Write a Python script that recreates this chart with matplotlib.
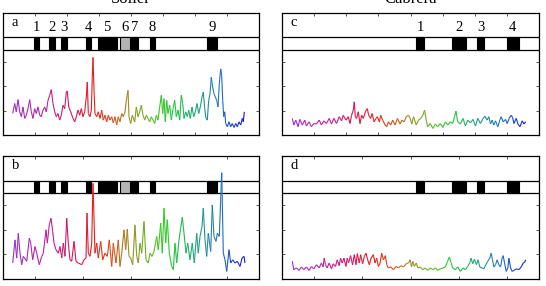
import numpy as np
import matplotlib
matplotlib.use('Agg')
import matplotlib.pyplot as plt
from matplotlib.collections import LineCollection
from matplotlib.colors import LinearSegmentedColormap
from matplotlib.patches import Rectangle

plt.rcParams['font.family'] = ['Liberation Serif', 'DejaVu Serif']

titles = ['Soller', 'Cabrera']
panel_labels = ['a', 'b', 'c', 'd']

# ---------- Soller, panel a ----------
a_x = [9.7, 11.7, 13.3, 15.0, 16.7, 18.3, 20.0, 21.7, 23.3, 25.0, 26.7, 28.3, 30.0, 31.7, 33.3, 35.0,
       36.7, 38.3, 40.0, 41.7, 43.3, 45.0, 46.7, 48.3, 50.0, 51.7, 53.3, 55.0, 56.7, 58.3, 60.0, 61.7,
       63.3, 64.3, 65.7, 67.7, 70.0, 71.7, 73.3, 75.0, 76.7, 78.3, 80.0, 81.7, 83.3, 84.3, 85.3, 87.0,
       88.3, 89.3, 90.0, 91.0, 92.0, 93.7, 95.3, 97.0, 98.7, 100.3, 102.0, 103.7, 105.3, 107.0, 108.7,
       110.3, 112.0, 113.7, 115.3, 117.0, 118.7, 120.3, 122.0, 123.3, 125.0, 126.0, 127.7, 129.3,
       131.7, 133.3, 135.0, 136.7, 138.3, 140.0, 141.7, 143.3, 145.0, 146.7, 148.3, 150.0, 151.7,
       153.3, 155.0, 156.7, 158.3, 159.7, 161.0, 162.3, 163.7, 165.0, 166.7, 168.3, 170.0, 171.7,
       173.3, 175.0, 176.7, 178.3, 179.7, 181.0, 182.7, 184.3, 185.7, 187.3, 189.0, 190.7, 192.3,
       194.0, 195.7, 197.3, 199.0, 200.3, 201.7, 203.0, 204.3, 205.7, 207.0, 208.3, 209.7, 211.0,
       212.3, 213.7, 215.0, 216.3, 217.7, 218.7, 219.7, 220.7, 221.7, 222.7, 224.3, 226.0, 227.7,
       229.3, 231.0, 232.7, 234.3, 236.0, 237.7, 239.3, 240.3, 241.3]
a_y = [0.88, 1.29, 0.95, 1.45, 0.95, 0.75, 1.15, 0.68, 0.81, 1.08, 1.45, 0.95, 0.68, 1.08, 0.88, 1.15,
       0.81, 0.75, 1.02, 1.15, 0.95, 1.42, 1.63, 1.86, 1.29, 0.95, 0.75, 0.88, 0.61, 0.81, 1.22, 1.08,
       1.76, 1.80, 1.15, 0.95, 0.68, 0.54, 0.75, 1.02, 0.81, 1.08, 0.75, 0.95, 1.56, 2.17, 0.88, 0.75,
       1.02, 2.37, 3.18, 1.83, 0.88, 0.75, 0.95, 0.68, 1.02, 0.61, 0.81, 0.54, 0.81, 0.61, 0.75,
       0.50, 0.75, 0.41, 0.75, 0.54, 0.88, 0.75, 0.95, 1.42, 1.83, 0.75, 0.47, 0.81,
       0.54, 1.15, 0.75, 0.95, 1.22, 0.81, 0.61, 0.81, 0.68, 0.54, 0.75, 0.61, 0.47,
       0.81, 0.61, 1.15, 1.63, 0.88, 1.49, 0.54, 1.42, 0.88, 1.22, 0.61, 1.08, 1.42,
       0.75, 1.02, 0.61, 1.63, 1.29, 0.68, 0.95, 0.75, 1.02, 0.68, 1.15, 0.75, 0.95,
       1.29, 0.88, 1.15, 1.56, 1.76, 1.08, 0.68, 0.61, 1.42, 1.69, 2.37, 1.96, 1.69,
       1.56, 1.42, 1.15, 2.10, 2.71, 2.44, 1.42, 0.75, 0.95, 0.47, 0.34, 0.54, 0.34,
       0.47, 0.31, 0.47, 0.34, 0.54, 0.41, 0.68, 0.54, 0.95]

# ---------- Soller, panel b ----------
b_x = [9.7, 12.0, 13.7, 15.3, 17.0, 18.7, 20.3, 23.7, 26.3, 27.7, 29.7, 32.0, 33.7, 36.3, 38.7, 40.3,
       43.0, 44.3, 46.3, 48.0, 49.7, 51.0, 53.0, 55.3, 57.0, 58.7, 60.3, 62.0, 63.7, 65.3, 67.0, 68.7,
       71.0, 73.0, 75.3, 78.7, 81.0, 83.0, 84.0, 85.3, 87.0, 88.7, 90.0, 92.0, 93.7, 95.3, 97.7, 99.7,
       102.0, 104.3, 106.3, 108.7, 110.3, 113.0, 115.3, 117.0, 118.7, 121.0, 122.7, 124.3, 126.0,
       127.7, 129.7, 132.0, 133.7, 135.3, 137.0, 138.7, 141.0, 143.0, 145.3, 147.0, 149.0, 151.0,
       153.7, 155.3, 157.7, 159.3, 161.0, 162.7, 164.3, 166.3, 168.7, 170.3, 172.0, 173.7, 176.0,
       177.7, 179.3, 181.0, 183.0, 184.7, 187.0, 189.3, 191.3, 193.7, 195.3, 197.0, 199.0, 200.3,
       202.0, 203.7, 205.3, 207.7, 209.3, 211.0, 213.0, 214.3, 216.3, 218.7, 220.3, 222.0, 223.7,
       226.0, 227.7, 229.7, 232.0, 234.3, 237.0, 239.0, 241.0, 242.0]
b_y = [0.65, 1.59, 0.85, 1.86, 1.05, 0.58, 0.92, 0.72, 1.66, 1.46, 0.78, 1.32, 1.05, 0.58, 0.92, 1.05,
       2.00, 1.46, 2.20, 2.47, 1.93, 1.46, 1.19, 1.05, 1.32, 0.85, 1.46, 0.92, 2.47, 1.46, 0.78, 0.72,
       1.53, 0.72, 0.65, 0.58, 0.78, 0.85, 2.68, 1.05, 0.92, 1.46, 3.89, 1.05, 1.46, 0.85, 1.53, 0.78,
       1.05, 0.92, 1.59, 0.51, 1.46, 0.65, 1.59, 0.51, 1.05, 2.00, 1.19, 2.03, 0.92,
       0.85, 0.58, 2.20, 0.92, 0.65, 1.46, 1.05, 2.34, 0.78, 0.65, 1.05, 0.92, 1.12,
       1.73, 1.19, 2.27, 1.05, 2.88, 1.46, 2.41, 1.05, 0.51, 0.38, 1.46, 0.65, 1.59,
       2.07, 2.51, 1.86, 1.05, 1.46, 0.78, 1.46, 0.65, 1.86, 1.05, 1.73, 2.14, 2.88,
       1.59, 0.92, 1.86, 1.12, 3.01, 1.73, 1.53, 1.86, 1.73, 4.32, 1.05, 0.78, 0.31,
       1.19, 0.65, 0.78, 0.65, 0.72, 0.51, 0.85, 0.92, 0.65]

# ---------- Cabrera, panel c ----------
c_x = [10.3, 11.7, 13.7, 16.0, 17.7, 20.3, 22.7, 24.3, 27.0, 29.3, 31.7, 34.3, 37.0, 39.3, 41.7, 44.3,
       47.0, 49.3, 51.7, 54.3, 57.0, 59.3, 61.0, 63.7, 66.0, 67.7, 69.3, 71.0, 72.0, 73.0, 74.3, 76.0,
       77.7, 79.3, 81.0, 83.3, 85.0, 86.3, 88.3, 89.7, 91.7, 93.7, 95.0, 97.0, 98.3, 100.3, 102.7,
       104.3, 106.0, 108.3, 110.3, 112.7, 115.0, 117.7, 119.3, 121.7, 123.7, 126.0, 127.7, 129.3,
       131.0, 133.7, 136.0, 138.3, 140.3, 142.0, 143.7, 145.0, 147.7, 150.3, 152.7, 155.0, 157.7,
       160.3, 162.7, 165.0, 167.7, 170.0, 172.0, 173.3, 175.0, 177.7, 180.3, 182.7, 185.0, 187.7,
       190.3, 192.7, 195.0, 197.7, 200.3, 202.0, 204.3, 206.0, 207.7, 209.3, 211.0, 212.7, 215.0,
       217.0, 218.3, 220.3, 222.7, 224.3, 226.3, 228.3, 229.7, 231.0, 233.3, 235.0, 237.0, 239.3,
       241.0, 242.7]
c_y = [0.68, 0.41, 0.61, 0.34, 0.64, 0.41, 0.61, 0.37, 0.54, 0.34, 0.47, 0.45, 0.61, 0.41, 0.58, 0.47,
       0.68, 0.45, 0.68, 0.47, 0.75, 0.58, 0.81, 0.61, 0.75, 0.47, 0.81, 1.02, 1.36, 0.75, 0.68, 0.95,
       0.47, 0.81, 0.68, 0.98, 1.08, 0.81, 0.68, 0.88, 0.54, 0.68, 0.75, 0.54, 0.81, 0.61, 0.41,
       0.34, 0.54, 0.41, 0.61, 0.41, 0.68, 0.45, 0.61, 0.54, 0.75, 0.81, 0.68, 0.45,
       0.75, 0.41, 0.61, 0.68, 0.81, 1.02, 0.61, 0.34, 0.47, 0.27, 0.45, 0.34, 0.47,
       0.31, 0.54, 0.41, 0.54, 0.47, 0.77, 0.98, 0.54, 0.45, 0.68, 0.37, 0.61, 0.50,
       0.64, 0.37, 0.68, 0.47, 0.68, 0.77, 0.61, 0.75, 0.45, 0.61, 0.41, 0.58, 0.34,
       0.61, 0.75, 0.54, 0.64, 0.47, 0.68, 0.81, 0.72, 0.47, 0.68, 0.45, 0.34, 0.58,
       0.45, 0.54]

# ---------- Cabrera, panel d ----------
d_x = [10.3, 11.7, 14.3, 17.0, 19.3, 21.7, 24.3, 27.0, 29.3, 31.7, 34.3, 37.0, 39.3, 41.0, 42.0, 43.3,
       45.0, 47.0, 49.3, 51.0, 53.3, 55.0, 57.0, 58.3, 60.0, 61.7, 63.7, 65.0, 66.3, 68.3, 70.3, 72.0,
       73.7, 75.0, 77.0, 78.3, 80.3, 82.0, 83.7, 85.3, 87.0, 88.7, 91.0, 92.7, 94.3, 96.0, 97.7, 99.3,
       101.0, 103.0, 104.3, 106.0, 108.3, 111.0, 113.7, 116.0, 118.3, 121.0, 123.7, 126.0, 127.7,
       129.0, 130.3, 131.7, 133.7, 135.3, 137.7, 140.3, 142.7, 145.0, 147.7, 150.3, 153.0, 155.0,
       157.7, 160.3, 162.7, 165.0, 166.7, 168.3, 170.0, 172.7, 175.0, 177.7, 180.3, 182.7, 185.0,
       187.0, 188.3, 190.0, 191.7, 193.7, 195.3, 197.0, 199.3, 201.0, 203.0, 205.0, 207.0, 208.3,
       209.7, 211.0, 212.7, 214.3, 216.0, 217.7, 219.3, 220.3, 221.7, 223.3, 225.0, 226.0, 227.7,
       229.3, 231.0, 233.3, 236.0, 238.3, 240.3, 241.7, 242.7]
d_y = [0.72, 0.38, 0.45, 0.35, 0.49, 0.38, 0.49, 0.35, 0.51, 0.41, 0.58, 0.45, 0.65, 0.49, 0.85, 0.58,
       0.45, 0.65, 0.41, 0.62, 0.51, 0.78, 0.54, 0.85, 0.65, 0.85, 0.51, 0.85, 0.65, 0.95, 0.58, 0.99,
       0.58, 1.03, 0.65, 0.99, 0.62, 0.92, 1.05, 0.78, 0.58, 0.85, 0.99, 0.65, 0.85, 0.51, 0.65, 1.05,
       0.78, 0.95, 0.58, 0.45, 0.49, 0.38, 0.51, 0.45, 0.54, 0.49, 0.62, 0.65, 0.78,
       0.49, 0.72, 0.51, 0.65, 0.45, 0.49, 0.38, 0.45, 0.35, 0.45, 0.38, 0.45, 0.35,
       0.41, 0.45, 0.49, 0.72, 0.89, 0.68, 0.45, 0.38, 0.49, 0.31, 0.45, 0.38, 0.51,
       0.65, 0.85, 0.62, 0.81, 0.58, 0.78, 0.49, 0.45, 0.41, 0.58, 0.72, 0.85, 1.05,
       0.78, 0.49, 0.58, 0.78, 0.58, 0.49, 0.85, 0.95, 0.65, 0.31, 0.45, 0.85, 0.45,
       0.31, 0.35, 0.41, 0.38, 0.49, 0.65, 0.68, 0.78]

# ---------- band segments ----------
soller_starts = [31.3, 46.3, 57.7, 83.3, 94.7, 117.3, 128.0, 146.7, 203.7]
soller_ends = [36.3, 52.0, 63.7, 87.7, 113.7, 127.3, 135.3, 152.0, 213.7]
soller_gray = [False, False, False, False, False, True, False, False, False]
soller_names = ['1', '2', '3', '4', '5', '6', '7', '8', '9']

cabrera_starts = [133.7, 169.7, 194.3, 223.7]
cabrera_ends = [141.7, 183.3, 201.7, 235.7]
cabrera_gray = [False, False, False, False]
cabrera_names = ['1', '2', '3', '4']

ticks_top = [32, 64, 96, 128, 160, 192, 224]
ticks_bottom = [32, 80, 128, 176, 224]
yticks = [1, 2, 3]

cmap = LinearSegmentedColormap.from_list('trace', [
    (0.00, '#9a30d0'), (0.15, '#c0209c'), (0.27, '#d61650'), (0.35, '#e81e1e'),
    (0.43, '#d8501a'), (0.50, '#a08c22'), (0.60, '#58be22'), (0.68, '#22cc30'),
    (0.80, '#20a088'), (0.90, '#2070c0'), (1.00, '#1818e0')])

W, H = 546, 286
fig = plt.figure(figsize=(W / 100, H / 100), dpi=100)

panels = [
    (a_x, a_y, soller_starts, soller_ends, soller_gray, soller_names, ticks_top, 'a', (3, 13, 259, 135)),
    (b_x, b_y, soller_starts, soller_ends, soller_gray, None, ticks_bottom, 'b', (3, 156, 259, 279)),
    (c_x, c_y, cabrera_starts, cabrera_ends, cabrera_gray, cabrera_names, ticks_top, 'c', (282, 13, 539, 135)),
    (d_x, d_y, cabrera_starts, cabrera_ends, cabrera_gray, None, ticks_bottom, 'd', (282, 156, 539, 279)),
]

for xs, ys, st, en, gr, names, xt, lab, (l, t, r, b) in panels:
    ax = fig.add_axes([l / W, 1 - b / H, (r - l) / W, (b - t) / H])
    ax.set_xlim(0, 256)
    ax.set_ylim(0, 5)
    ax.set_xticks(xt)
    ax.set_yticks(yticks)
    ax.tick_params(direction='in', length=2.5, width=0.7, color='#555555',
                   top=True, right=True, labelbottom=False, labelleft=False)
    for s in ax.spines.values():
        s.set_linewidth(0.9)
    ax.axhline(3.5, color='black', lw=0.9, zorder=2)
    ax.axhline(4.0, color='black', lw=0.9, zorder=2)
    for s0, s1, g in zip(st, en, gr):
        ax.add_patch(Rectangle((s0, 3.5), s1 - s0, 0.5,
                               facecolor='#b4b4b4' if g else 'black',
                               edgecolor='black', lw=0.8, zorder=3))
    if names is not None:
        for s0, s1, nm in zip(st, en, names):
            ax.text((s0 + s1) / 2, 4.42, nm, ha='center', va='center', fontsize=10.5)
    ax.text(0.035, 0.92, lab, transform=ax.transAxes, ha='left', va='center', fontsize=10.5)
    x = np.asarray(xs)
    y = np.asarray(ys)
    pts = np.column_stack([x, y]).reshape(-1, 1, 2)
    segs = np.concatenate([pts[:-1], pts[1:]], axis=1)
    tnorm = ((x[:-1] + x[1:]) / 2 - x.min()) / (x.max() - x.min())
    lc = LineCollection(segs, colors=cmap(tnorm), linewidths=0.8, zorder=4)
    ax.add_collection(lc)

fig.text(131 / W, 1 - 3 / H, titles[0], ha='center', va='baseline', fontsize=12)
fig.text(411 / W, 1 - 3 / H, titles[1], ha='center', va='baseline', fontsize=12)

fig.savefig('out.png', dpi=100)
